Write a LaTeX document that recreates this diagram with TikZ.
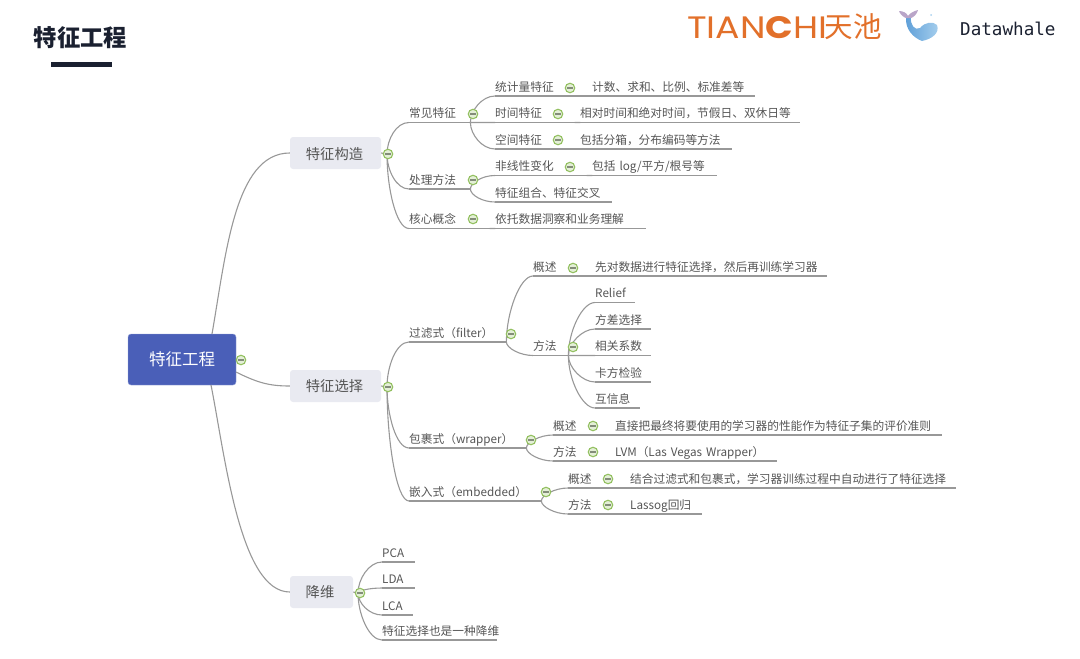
\documentclass[tikz,border=0pt]{standalone}
\usepackage{fontspec}
\setmainfont{Noto Sans CJK SC}
\newfontfamily\logofont{Poppins}
\newfontfamily\whalefont{DejaVu Sans Mono}
\usetikzlibrary{calc}
\definecolor{inkdark}{HTML}{1a2030}
\definecolor{inkgray}{HTML}{555555}
\definecolor{linkgray}{HTML}{989898}
\definecolor{rootblue}{HTML}{4a5fb8}
\definecolor{branchgray}{HTML}{e9eaf1}
\definecolor{foldgreen}{HTML}{93c060}
\definecolor{tianchi}{HTML}{e2702a}
\definecolor{whaleleft}{HTML}{5e9fd8}
\definecolor{whaleright}{HTML}{a8d0ee}
\definecolor{whaletail}{HTML}{b9a5c8}
\tikzset{
  link/.style={linkgray, line width=1.1pt},
  topic/.style={anchor=south west, inner xsep=0pt, inner ysep=2.5pt, text height=9.5pt, text depth=2pt,
    align=left, text=inkgray, font=\fontsize{11.7}{13}\selectfont},
  branch/.style={fill=branchgray, rounded corners=3pt, minimum height=32pt, text=inkgray, inner sep=0pt,
    font=\fontsize{14.3}{16}\selectfont},
  foldicon/.style={circle, draw=foldgreen, line width=1.1pt, fill=foldgreen!25, minimum size=9.5pt, inner sep=0pt,
    path picture={\draw[gray!80!foldgreen, line width=1.1pt] ($(path picture bounding box.center)+(-3,0)$) -- ($(path picture bounding box.center)+(3,0)$);}},
}
\begin{document}
\begin{tikzpicture}[x=1pt, y=-1pt]
    \useasboundingbox (0,0) rectangle (1080,659);
    % title and logos
    \node[font=\fontsize{23.3}{26}\selectfont\bfseries, text=inkdark, inner sep=0pt] (title) at (80.5,38) {特征工程};
    \node[fill=inkdark, minimum width=61pt, minimum height=5.5pt, inner sep=0pt] (titlebar) at (81.5,64.5) {};
    \node[font=\fontsize{31}{33}\logofont, text=tianchi, inner sep=0pt, anchor=west, xscale=1.17] (tianchitext) at (687,27.5) {TIAN\textbf{C}HI};
    \node[font=\fontsize{28.5}{30}\selectfont, text=tianchi, inner sep=0pt, anchor=east] (tianchicjk) at (882,27) {天池};
    \node[font=\fontsize{17.6}{20}\whalefont, text=inkdark, inner sep=0pt, anchor=west] (datawhale) at (960,29) {Datawhale};
    % whale
    \shade[left color=whaleleft, right color=whaleright]
      (906,17) .. controls (905,30) and (914,38) .. (922,41) .. controls (932,39) and (940,33) .. (937,25)
      .. controls (933,21) and (925,22) .. (920,28) .. controls (915,31) and (910,25) .. (911,17) -- cycle;
    \fill[whaletail] (899,11) .. controls (903,11) and (907,13) .. (908,16) .. controls (910,13) and (914,11) .. (918,10)
      .. controls (917,14) and (914,17) .. (911,18) -- (906,18) .. controls (903,17) and (900,14) .. (899,11) -- cycle;
    \fill[whaleright] (931,15) circle (1pt);
    % main nodes
    \node[fill=rootblue, draw=rootblue!60!white, rounded corners=3pt, minimum width=108pt, minimum height=51pt, text=white, inner sep=0pt,
      font=\fontsize{16.5}{18}\selectfont] (root) at (182,359.5) {特征工程};
    \node[branch, minimum width=91pt, text depth=0pt] (build) at (335.5,153) {\kern-2pt特征构造};
    \node[branch, minimum width=91pt] (select) at (335.5,386) {\kern-2pt特征选择};
    \node[branch, minimum width=63pt] (reduce) at (321.5,592) {\kern-3pt降维};
    \coordinate (rootup) at (212,334);
    \coordinate (rootmid) at (236,372);
    \coordinate (rootdown) at (211,385);
    \coordinate (buildfork) at (387,154);
    \coordinate (selectfork) at (387,387);
    \coordinate (reducefork) at (358,593);
    \draw[link] (rootup) .. controls +(14,-80) and +(-55,0) .. (build.west);
    \draw[link] (rootmid) .. controls +(22,11) and +(-20,0) .. (select.west);
    \draw[link] (rootdown) .. controls +(14,70) and +(-50,0) .. (reduce.west);
    \draw[link] (build.east) -- (buildfork);
    \draw[link] (select.east) -- (selectfork);
    \draw[link] (reduce.east) -- (reducefork);
    % topics: name / x / underline y / length / text
    \foreach \name/\x/\y/\w/\txt in {
      common/409/122.5/61/常见特征, process/409/189/61/处理方法, core/409/228.5/86/核心概念,
      stat/495/96/97/统计量特征, statleaf/592/96/163/计数、求和、比例、标准差等,
      time/495/122.5/85/时间特征, timeleaf/580/122.5/220/相对时间和绝对时间，节假日、双休日等,
      space/495/149/85/空间特征, spaceleaf/580/149/152/包括分箱，分布编码等方法,
      nonlin/495/175.5/97/非线性变化, nonlinleaf/592/175.5/125/{包括 log/平方/根号等},
      cross/495/202/117/特征组合、特征交叉, insight/495/228.5/151/依托数据洞察和业务理解,
      filter/409/342/97/过滤式（filter）,
      filtersum/533/276/62/概述, filtersumleaf/595/276/232/先对数据进行特征选择，然后再训练学习器,
      filtermeth/533/355.5/35/方法, relief/595/302.5/40/Relief, variance/595/329/56/方差选择,
      corr/595/355.5/56/相关系数, chi/595/382/56/卡方检验, mutual/595/408/45/互信息,
      wrapper/409/448/117/包裹式（wrapper）,
      wrapsum/553/435/62/概述, wrapsumleaf/615/435/327/直接把最终将要使用的学习器的性能作为特征子集的评价准则,
      wrapmeth/553/461/62/方法, wrapmethleaf/615/461/162/LVM（Las Vegas Wrapper）,
      embed/409/501/132/嵌入式（embedded）,
      embedsum/568/488/62/概述, embedsumleaf/630/488/326/结合过滤式和包裹式，学习器训练过程中自动进行了特征选择,
      embedmeth/568/514/62/方法, embedmethleaf/630/514/72/Lassog回归,
      pca/382/562/33/PCA, lda/382/588/33/LDA, lca/382/615/31/LCA, dimnote/382/640/115/特征选择也是一种降维} {
      \node[topic, text width=\w pt] (\name) at (\x,\y) {\txt};
      \draw[link] (\name.south west) -- (\name.south east);
    }
    % links between topics
    \foreach \from/\to in {
      buildfork/common, buildfork/process, buildfork/core,
      common.south east/stat, common.south east/time, common.south east/space,
      process.south east/nonlin, process.south east/cross, core.south east/insight,
      stat.south east/statleaf, time.south east/timeleaf, space.south east/spaceleaf, nonlin.south east/nonlinleaf,
      selectfork/filter, selectfork/wrapper, selectfork/embed,
      filter.south east/filtersum, filter.south east/filtermeth, filtersum.south east/filtersumleaf,
      filtermeth.south east/relief, filtermeth.south east/variance, filtermeth.south east/corr,
      filtermeth.south east/chi, filtermeth.south east/mutual,
      wrapper.south east/wrapsum, wrapper.south east/wrapmeth,
      wrapsum.south east/wrapsumleaf, wrapmeth.south east/wrapmethleaf,
      embed.south east/embedsum, embed.south east/embedmeth,
      embedsum.south east/embedsumleaf, embedmeth.south east/embedmethleaf,
      reducefork/pca, reducefork/lda, reducefork/lca, reducefork/dimnote} {
      \draw[link] (\from) .. controls ($(\from)!0.45!(\to.south west -| \from)$) and ($(\to.south west)+(-13,0)$) .. (\to.south west);
    }
    % fold icons
    \foreach \name/\x/\y in {
      rootfold/241/360, buildicon/388/154, selecticon/388/387, reduceicon/360/593,
      commonfold/473/114, processfold/473/180, corefold/473/219,
      statfold/570/88, timefold/558/114, spacefold/558/140, nonlinfold/570/167,
      filterfold/511/334, filtersumfold/573/268, filtermethfold/573/347,
      wrapperfold/531/440, wrapsumfold/593/426, wrapmethfold/593/452,
      embedfold/546/492, embedsumfold/608/479, embedmethfold/608/505} {
      \node[foldicon] (\name) at (\x,\y) {};
    }
  \end{tikzpicture}
\end{document}
